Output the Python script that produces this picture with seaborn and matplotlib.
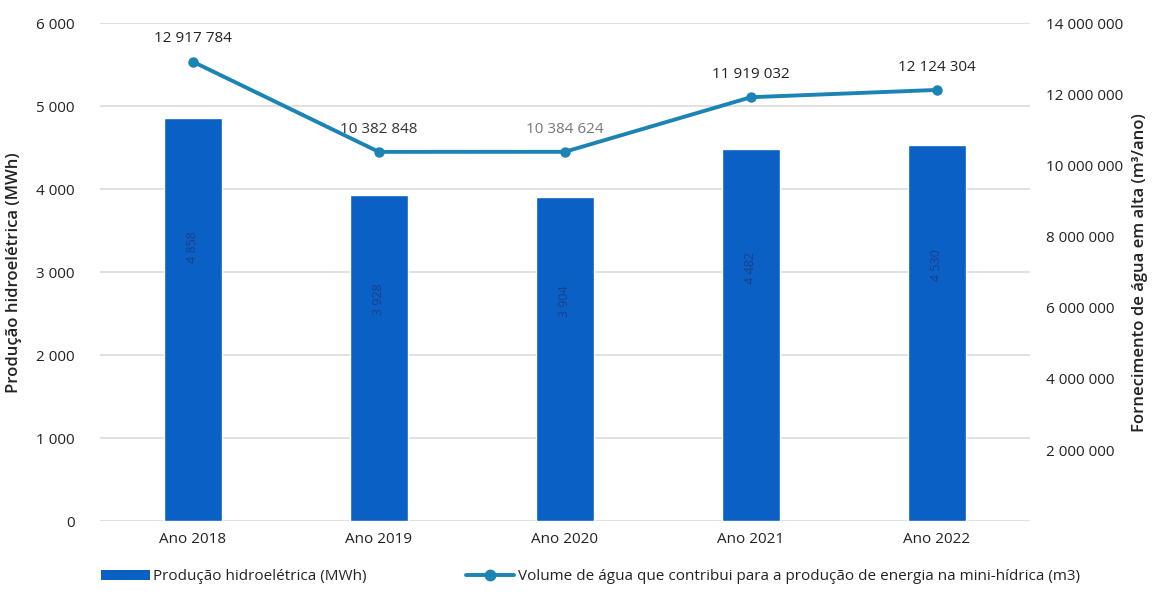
import matplotlib
matplotlib.use("Agg")
import matplotlib.pyplot as plt
import seaborn as sns
import pandas as pd
from matplotlib.ticker import FuncFormatter, FixedLocator
from matplotlib.patches import Patch
from matplotlib.lines import Line2D

# Data
anos = ["Ano 2018", "Ano 2019", "Ano 2020", "Ano 2021", "Ano 2022"]
producao_mwh = [4858, 3928, 3904, 4482, 4530]
volume_m3 = [12917784, 10382848, 10384624, 11919032, 12124304]
volume_labels = ["12 917 784", "10 382 848", "10 384 624", "11 919 032", "12 124 304"]
label_colors = ["#222222", "#333333", "#777777", "#222222", "#222222"]

sns.set_theme(style="white")
plt.rcParams["font.family"] = ["Open Sans", "DejaVu Sans"]

bar_color = "#0a60c4"
line_color = "#1c84b4"

df = pd.DataFrame({"ano": anos, "producao": producao_mwh, "volume": volume_m3})

fig = plt.figure(figsize=(11.61, 5.95), dpi=100)
ax = fig.add_axes([0.086, 0.124, 0.801, 0.837])

sns.barplot(data=df, x="ano", y="producao", color=bar_color, width=0.31,
            saturation=1, ax=ax, zorder=2)
ax.set_ylim(0, 6000)
ax.set_xlim(-0.5, 4.5)
ax.yaxis.set_major_locator(FixedLocator(range(0, 6001, 1000)))
fmt = FuncFormatter(lambda v, p: f"{int(v):,}".replace(",", " "))
ax.yaxis.set_major_formatter(fmt)
ax.grid(axis="y", color="#dcdcdc", linewidth=1.2, zorder=0)
ax.set_axisbelow(True)
for s in ax.spines.values():
    s.set_visible(False)
ax.tick_params(axis="both", length=0, labelsize=11, colors="#222222")
ax.tick_params(axis="y", pad=18)
ax.tick_params(axis="x", pad=8)
ax.set_xlabel("")
ax.set_ylabel("Produção hidroelétrica (MWh)", fontsize=12, color="#222222",
              labelpad=10, fontweight="semibold")

# Rotated values inside bars
for i, v in enumerate(producao_mwh):
    ax.text(i, v * 0.68, f"{v:,}".replace(",", " "), rotation=90, ha="center",
            va="center", fontsize=9, color="#1b3f86", zorder=3)

ax2 = ax.twinx()
sns.lineplot(x=anos, y=volume_m3, ax=ax2, color=line_color, linewidth=2.8,
             marker="o", markersize=7.5, markeredgewidth=0, sort=False)
ax2.set_ylim(0, 14000000)
ax2.yaxis.set_major_locator(FixedLocator(range(2000000, 14000001, 2000000)))
ax2.yaxis.set_major_formatter(fmt)
for s in ax2.spines.values():
    s.set_visible(False)
ax2.tick_params(axis="y", length=0, labelsize=11, colors="#222222", pad=12)
ax2.set_ylabel("Fornecimento de água em alta (m³/ano)", fontsize=12,
               color="#222222", labelpad=6, fontweight="semibold")
ax2.grid(False)

for i, (v, lab, c) in enumerate(zip(volume_m3, volume_labels, label_colors)):
    ax2.annotate(lab, (i, v), xytext=(0, 11), textcoords="offset points",
                 ha="center", va="bottom", fontsize=11, color=c)

handles = [
    Patch(facecolor=bar_color, edgecolor="none", label="Produção hidroelétrica (MWh)"),
    Line2D([], [], color=line_color, linewidth=2.8, marker="o", markersize=7.5,
           label="Volume de água que contribui para a produção de energia na mini-hídrica (m3)"),
]
fig.legend(handles=handles, loc="lower left", bbox_to_anchor=(0.075, -0.005), ncol=2,
           frameon=False, fontsize=11, handlelength=3.2, handleheight=0.6,
           handletextpad=0.2, columnspacing=6.5, labelcolor="#222222")

fig.savefig("out.png", dpi=100, facecolor="white")
